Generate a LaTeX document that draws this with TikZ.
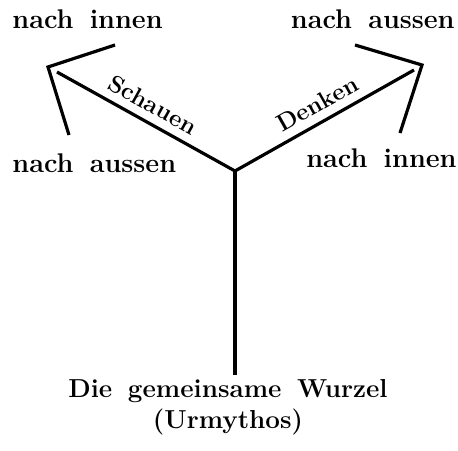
\documentclass[tikz,border=0pt]{standalone}
\usepackage{tikz}
\usetikzlibrary{positioning,calc}

\newcommand{\wgap}{\hspace{0.6em}}

\begin{document}
\begin{tikzpicture}[
  x=0.5pt, y=-0.5pt,
  branch/.style={
    line width=1.6pt,
    line cap=butt,
    draw=black
  },
  dirlabel/.style={
    font=\fontsize{13.5}{15}\selectfont\bfseries,
    inner sep=0pt
  },
  pathlabel/.style={
    font=\fontsize{12}{14}\selectfont\bfseries,
    sloped,
    inner sep=4pt
  },
  rootlabel/.style={
    font=\fontsize{13}{15.5}\selectfont\bfseries,
    align=center,
    inner sep=2pt
  }
]
  \useasboundingbox (0,0) rectangle (458,450);

  % ----------------------------------------------------
  % FIXED POINTS
  % ----------------------------------------------------
  \coordinate (fork) at (235,171);
  \coordinate (schauenend) at (57,72);
  \coordinate (schauentip) at (48,67);
  \coordinate (denkenend) at (414,70);
  \coordinate (denkentip) at (422,65);

  % ----------------------------------------------------
  % TEXTS
  % ----------------------------------------------------
  \node[dirlabel, anchor=base west] (innenL) at (12,28) {nach\wgap innen};
  \node[dirlabel, anchor=base west] (aussenL) at (12,172) {nach\wgap aussen};
  \node[dirlabel, anchor=base east] (aussenR) at (455,28) {nach\wgap aussen};
  \node[dirlabel, anchor=base east] (innenR) at (457,167) {nach\wgap innen};

  \node[rootlabel, anchor=north] (wurzel) at (228,375) {Die\wgap gemeinsame\wgap Wurzel\\(Urmythos)};

  % ----------------------------------------------------
  % STEM AND BRANCHES
  % ----------------------------------------------------
  % Stem down to the common root
  \draw[branch] (fork) -- (fork |- wurzel.north);

  % Left branch
  \draw[branch] (fork) -- node[pathlabel, pos=0.51, above] {Schauen} (schauenend);
  \draw[branch] ($(schauentip)+(67,-22)$) -- (schauentip) -- ($(schauentip)+(21,68)$);

  % Right branch
  \draw[branch] (fork) -- node[pathlabel, pos=0.51, above] {Denken} (denkenend);
  \draw[branch] ($(denkentip)+(-67,-20)$) -- (denkentip) -- ($(denkentip)+(-22,68)$);

\end{tikzpicture}
\end{document}
